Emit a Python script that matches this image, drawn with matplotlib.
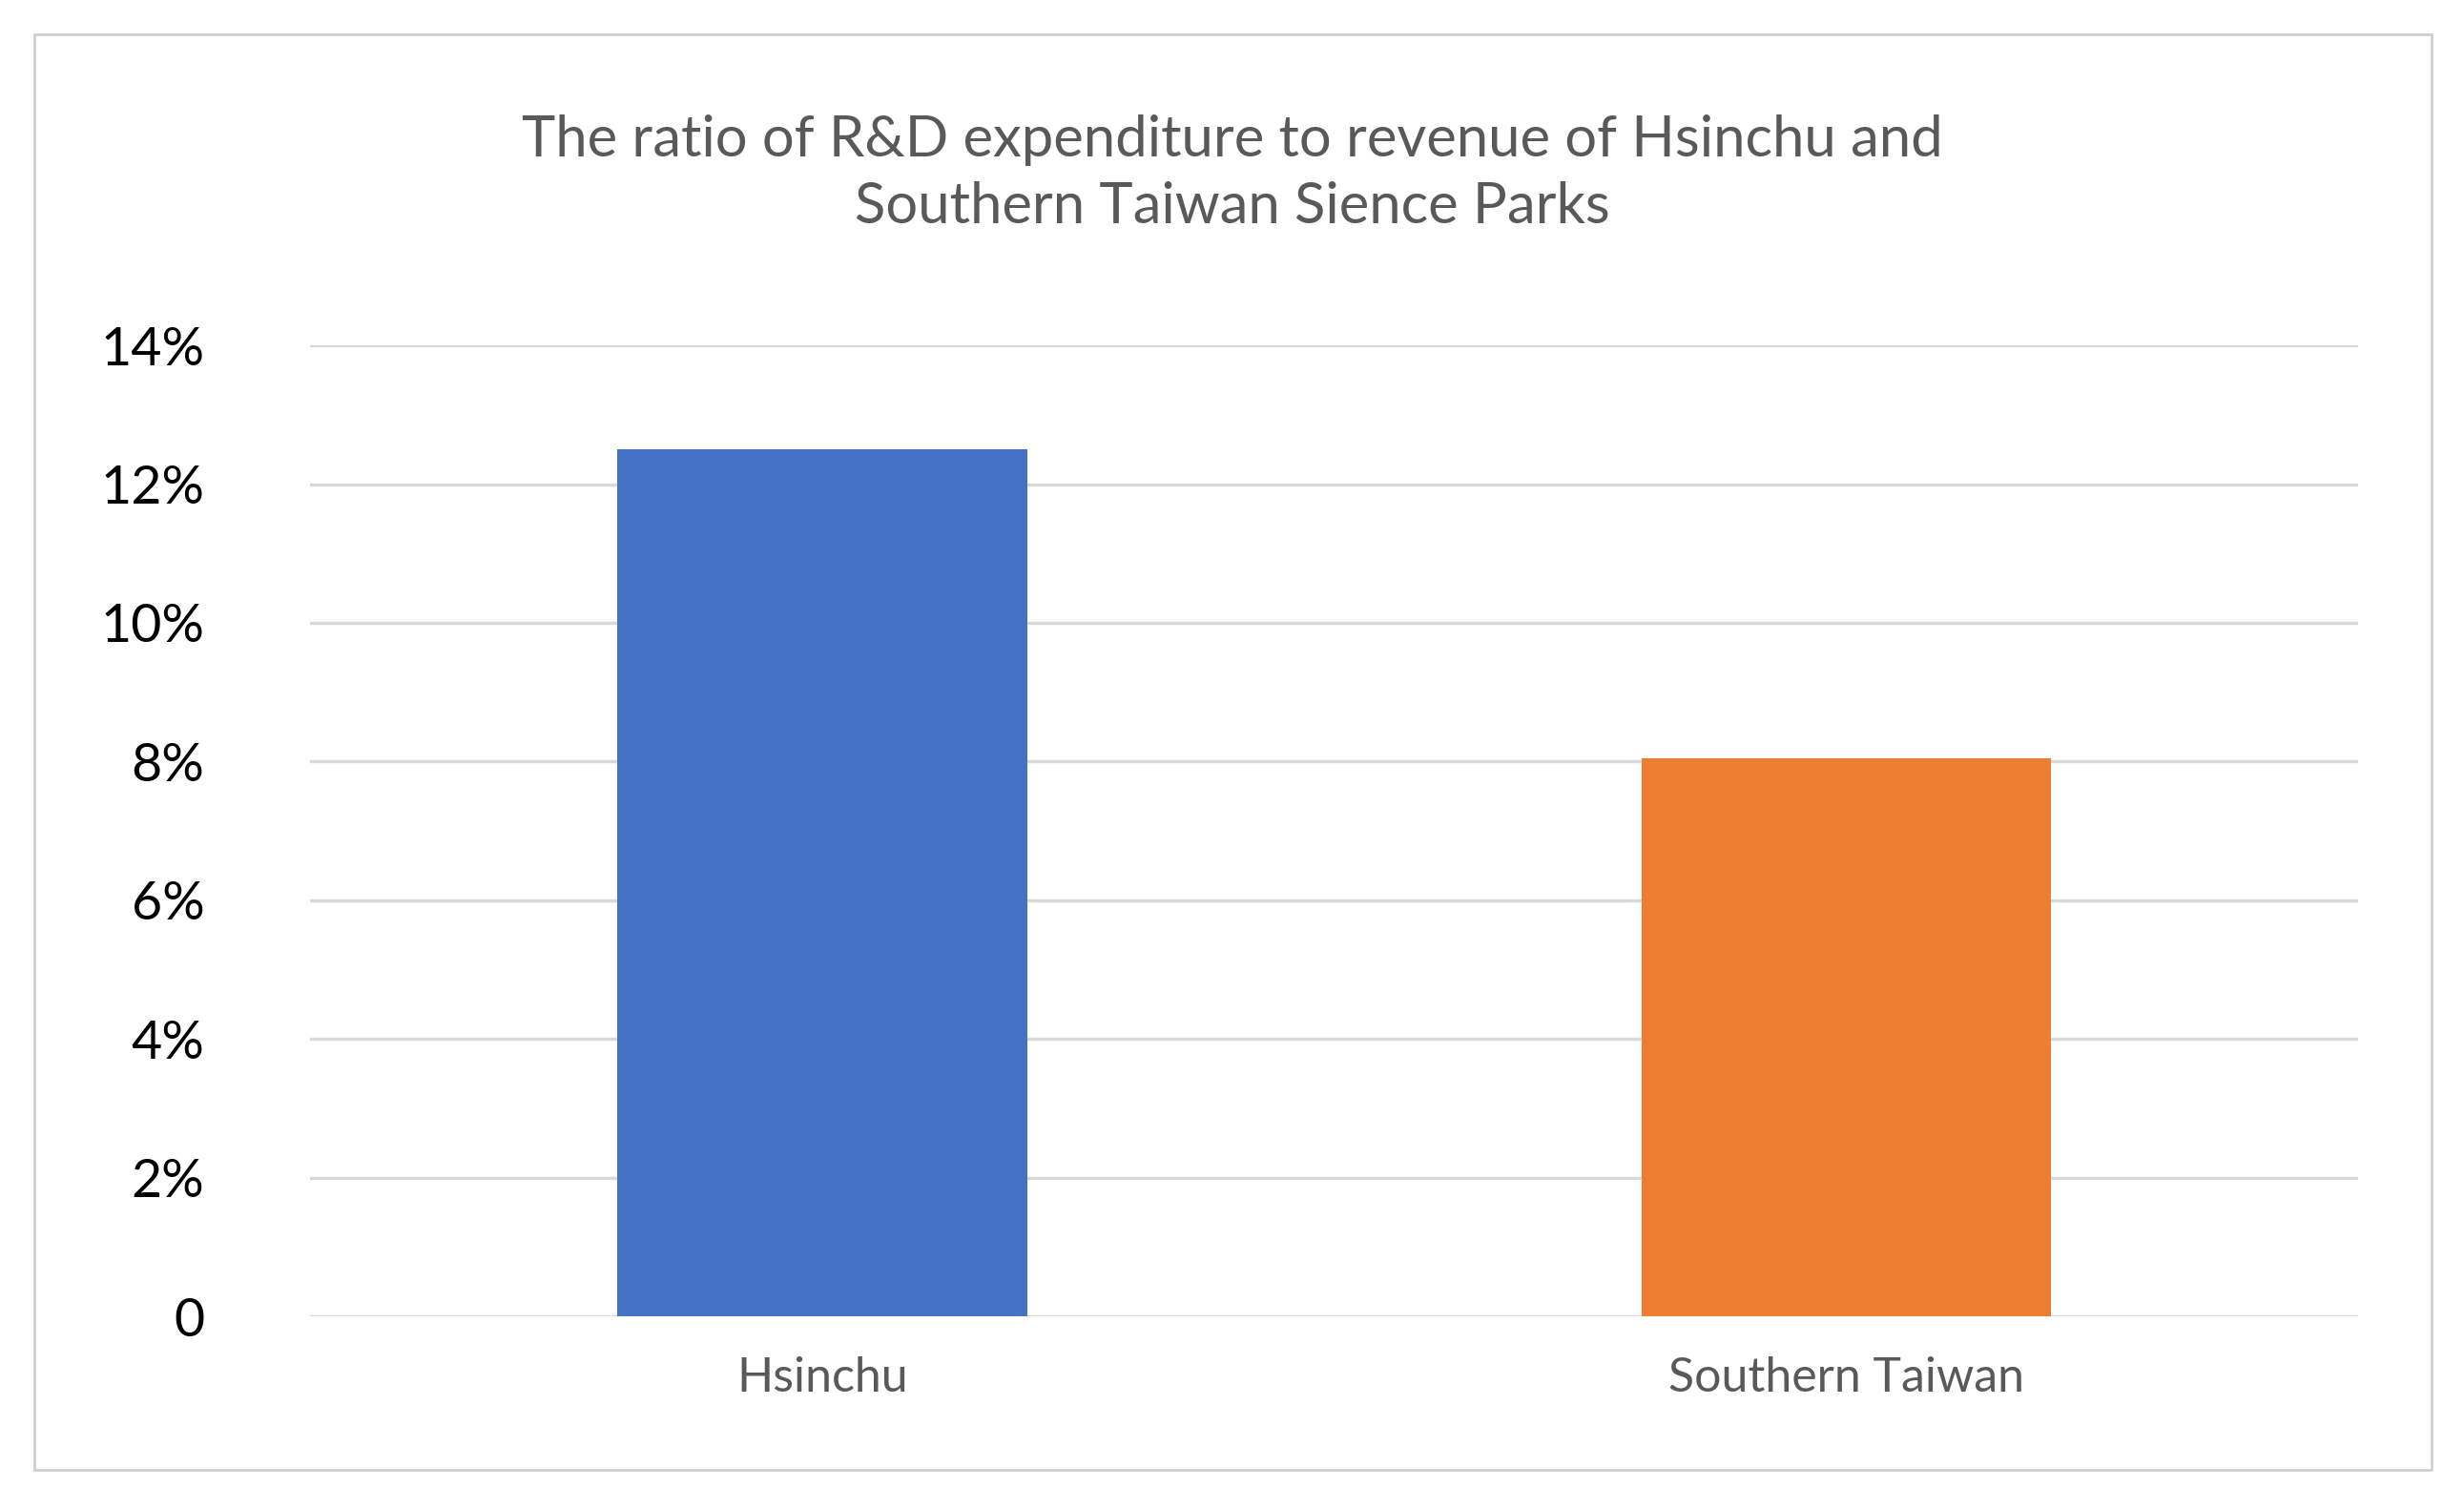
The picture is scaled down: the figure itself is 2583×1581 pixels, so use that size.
import matplotlib
matplotlib.use("Agg")
from matplotlib import pyplot as plt
from matplotlib.patches import Rectangle
from matplotlib.ticker import FuncFormatter

plt.rcParams['font.family'] = ['Lato', 'DejaVu Sans']

categories = ['Hsinchu', 'Southern Taiwan']
ratios = [0.125, 0.0805]
colors = ['#4472C4', '#ED7D31']
yticks = [0, 0.02, 0.04, 0.06, 0.08, 0.10, 0.12, 0.14]

fig = plt.figure(figsize=(25.83, 15.81), dpi=100)
fig.patches.append(Rectangle((0.014, 0.025), 0.973, 0.952, transform=fig.transFigure,
                             fill=False, edgecolor='#d0d0d0', linewidth=2))
ax = fig.add_axes([0.126, 0.127, 0.831, 0.644])

ax.bar(range(len(categories)), ratios, width=0.4, color=colors, zorder=3)
ax.set_xlim(-0.5, 1.5)
ax.set_ylim(0, 0.14)
ax.set_yticks(yticks)
ax.yaxis.set_major_formatter(FuncFormatter(lambda v, p: '0' if v == 0 else f'{v*100:.0f}%'))
ax.set_xticks(range(len(categories)))
ax.set_xticklabels(categories, fontsize=36, color='#595959')
ax.tick_params(axis='y', labelsize=40, colors='black', length=0, pad=80)
ax.tick_params(axis='x', length=0, pad=30)
for lab in ax.get_yticklabels():
    lab.set_horizontalalignment('right')
ax.grid(axis='y', color='#d9d9d9', linewidth=2.5, zorder=0)
for s in ax.spines.values():
    s.set_visible(False)

fig.text(0.5, 0.885, 'The ratio of R&D expenditure to revenue of Hsinchu and\nSouthern Taiwan Sience Parks',
         ha='center', va='center', fontsize=43, color='#595959', linespacing=1.35)

fig.savefig('out.png', dpi=100)
